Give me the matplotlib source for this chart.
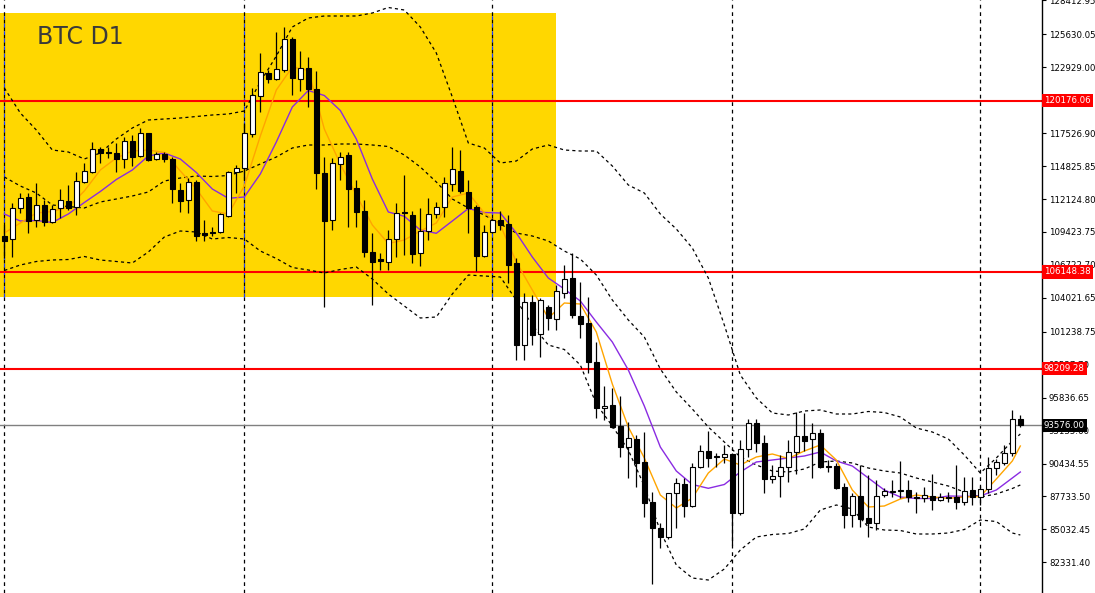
import matplotlib
matplotlib.use("Agg")
import matplotlib.pyplot as plt
import matplotlib.transforms as mtransforms
from matplotlib.patches import Rectangle
import numpy as np
import pandas as pd

# ---------------- data ----------------
start_date = "2025-09-01"

opens = [109116, 108820, 111362, 112264, 110403, 111633, 110214, 111362, 111936, 111444,
         113544, 114364, 116200, 116004, 115872, 115405, 116856, 115651, 117512, 115405,
         115790, 115380, 112863, 112043, 113544, 109312, 109444, 109394, 110756, 114314,
         114642, 117455, 120596, 122482, 121940, 122703, 125220, 121940, 122842, 121120,
         114232, 110403, 114995, 115733, 113002, 111141, 107804, 107180, 106984, 108820,
         111084, 110813, 107672, 109526, 110870, 111444, 113355, 114421, 112724, 111494,
         107451, 109394, 110403, 110050, 106852, 100153, 103704, 101030, 103244, 102260,
         104442, 105622, 102556, 101932, 98734, 94962, 95233, 93511, 91814, 92445,
         90534, 87254, 85122, 84384, 87992, 88755, 86976, 90174, 91461, 91051,
         90994, 91190, 86402, 91600, 93732, 92142, 89190, 89436, 90174, 91354,
         92691, 92420, 92962, 90231, 90231, 88534, 86213, 87771, 85967, 85582,
         87828, 88124, 88181, 88263, 87664, 87582, 87796, 87443, 87664, 87664,
         87254, 88263, 87664, 88320, 90042, 90502, 91272, 94060]
highs = [109993, 111772, 112592, 112592, 113462, 112043, 111633, 112920, 113273, 114314,
         115052, 116824, 116414, 116414, 116742, 117234, 117373, 117922, 117512, 116004,
         116004, 115594, 113462, 113822, 113683, 110403, 109854, 110952, 114446, 114913,
         118332, 121202, 124072, 122703, 125844, 126254, 125434, 124261, 123794, 122646,
         115594, 115462, 116004, 116004, 113683, 112043, 109312, 107672, 109583, 111772,
         114093, 111166, 111362, 112182, 111904, 113954, 116414, 116143, 113683, 111633,
         109993, 110542, 111166, 110813, 107262, 104392, 104253, 103982, 103433, 105073,
         106713, 107672, 105344, 104114, 100424, 96791, 96602, 95971, 93864, 92773,
         93044, 88124, 85532, 88042, 89222, 89222, 90452, 91953, 93101, 91272,
         91953, 91272, 92363, 94060, 94060, 92773, 90313, 91133, 92363, 94634,
         94552, 93732, 93240, 90723, 90452, 88812, 87992, 90313, 89493, 89083,
         88402, 89083, 90641, 89083, 88124, 88534, 89550, 87992, 88124, 90313,
         89354, 89354, 88591, 90944, 90780, 91953, 94823, 94413]
lows = [107287, 107394, 110952, 109312, 109854, 109936, 110132, 110542, 111223, 110813,
        113412, 114232, 115052, 115462, 114364, 114642, 114831, 115594, 115241, 115323,
        115184, 111772, 111059, 110952, 108706, 108706, 109091, 109312, 110674, 112642,
        113683, 117234, 119284, 121612, 121883, 122564, 120653, 121006, 119644, 112920,
        103294, 109583, 113683, 109854, 109854, 107394, 103433, 106303, 106303, 107394,
        107533, 106852, 106656, 108763, 110592, 110674, 112806, 112642, 109312, 106246,
        107394, 109312, 109583, 105212, 98923, 98923, 100153, 99194, 101383, 101383,
        103982, 102342, 100702, 97832, 94142, 94003, 93322, 90994, 89222, 88534,
        86074, 80530, 83482, 84220, 85122, 86074, 86894, 90042, 90174, 90174,
        90502, 83753, 86213, 90994, 91404, 88042, 88862, 87714, 88944, 89575,
        91486, 89272, 90092, 89764, 88345, 85122, 85254, 85254, 84434, 84983,
        87714, 87714, 87582, 87304, 86352, 87304, 86623, 87386, 87304, 86680,
        87033, 87033, 87033, 88042, 89493, 90313, 91051, 93404]
closes = [108706, 111362, 112182, 110346, 111633, 110264, 111305, 112043, 111362, 113626,
          114396, 116200, 115922, 115872, 115380, 116856, 115544, 117562, 115323, 115815,
          115380, 112920, 111986, 113544, 109116, 109173, 109312, 110895, 114314, 114642,
          117512, 120653, 122564, 121940, 122760, 125220, 122022, 122892, 121120, 114232,
          110321, 115052, 115594, 112920, 111084, 107754, 106984, 107041, 108820, 110952,
          110952, 107615, 109501, 110870, 111444, 113412, 114560, 112806, 111362, 107451,
          109394, 110403, 109993, 106713, 100153, 103704, 100973, 103843, 102342, 104581,
          105540, 102613, 101850, 98784, 95012, 95176, 93454, 91814, 92502, 90502,
          87222, 85122, 84384, 87992, 88812, 86976, 90174, 91461, 90912, 90944,
          91190, 86402, 91625, 93732, 92142, 89140, 89436, 90124, 91354, 92691,
          92306, 92962, 90174, 90124, 88402, 86213, 87771, 85860, 85582, 87771,
          88181, 88181, 88263, 87664, 87582, 87853, 87443, 87664, 87582, 87254,
          88181, 87714, 88320, 90042, 90584, 91272, 94060, 93576]

# indicator values at these candle numbers
ind_idx = list(range(0, 128, 2)) + [127]
bb_upper = [121227, 119177, 117783, 116143, 115979, 115405, 115897, 117045, 117947, 118603,
            118685, 118767, 118890, 119013, 119095, 119341, 121719, 123851, 126229, 126967,
            127131, 127131, 127131, 127377, 127828, 127623, 126229, 124097, 120489, 116717,
            116307, 115077, 115241, 116225, 116553, 116143, 116061, 116061, 114831, 113273,
            112617, 110895, 109665, 108107, 105647, 101793, 97693, 95807, 94577, 94413,
            94741, 94823, 94495, 94495, 94700, 94618, 94249, 93347, 93019, 92445,
            91133, 89657, 90887, 92281, 92855]
bb_middle = [113929, 113191, 112617, 111633, 111510, 111387, 111879, 112125, 112371, 112699,
             113601, 113847, 114011, 113970, 114052, 114421, 114995, 115569, 116307, 116553,
             116553, 116635, 116635, 116553, 116430, 115733, 114749, 113519, 112125, 111387,
             110813, 110075, 109337, 109091, 108681, 107861, 107205, 105893, 103843, 102203,
             100809, 98185, 96299, 94905, 93429, 92199, 90969, 90313, 89821, 89739,
             89985, 90559, 90641, 90477, 90067, 89821, 89657, 89247, 88919, 88591,
             88099, 87689, 87935, 88386, 88673]
bb_lower = [106262, 106713, 107000, 107123, 107164, 107410, 107123, 107000, 106877, 107779,
            109009, 109501, 109419, 108845, 108968, 108845, 107861, 107246, 106508, 106303,
            106057, 106344, 106549, 105565, 104335, 103351, 102367, 102449, 104335, 105893,
            105811, 105729, 103843, 101793, 100153, 99784, 98513, 95315, 93511, 91543,
            88591, 84901, 82113, 81047, 80883, 81785, 83343, 84409, 84614, 84696,
            85065, 86623, 87033, 86705, 85229, 84983, 84942, 84655, 84655, 84737,
            85024, 85803, 85680, 84737, 84573]
ma_fast = [109337, 110157, 110977, 111100, 111469, 112781, 114503, 115487, 116061, 116143,
           115938, 114421, 112945, 111141, 110895, 113191, 117291, 121063, 122949, 122662,
           117865, 114995, 112453, 109993, 108476, 108763, 109501, 110157, 112289, 112617,
           110977, 109993, 106959, 104663, 102367, 103597, 103515, 101219, 96955, 93429,
           90887, 87853, 86787, 87607, 89657, 90805, 90313, 90969, 91215, 90846,
           91461, 91953, 90723, 88263, 86869, 86951, 87525, 87853, 87689, 87582,
           87689, 87730, 89165, 90641, 91871]
ma_slow = [110895, 110321, 110362, 110198, 110895, 111838, 112740, 113724, 114503, 115651,
           115897, 115405, 114298, 112945, 112182, 112289, 114175, 116799, 119669, 121022,
           120612, 119382, 117045, 113765, 111059, 110706, 109583, 109312, 110321, 111346,
           111018, 110977, 109337, 107369, 105647, 104745, 103761, 102039, 100399, 98103,
           95151, 91789, 89821, 88714, 88402, 88714, 89739, 90559, 90723, 90887,
           91051, 91379, 90641, 90231, 89247, 88263, 87689, 87566, 87566, 87771,
           87746, 87771, 88263, 89247, 89739]

levels = [120176.06, 106148.38, 98209.28]
last_price = 93576.00
tick_values = [128412.95, 125630.05, 122929.00, 117526.90, 114825.85, 112124.80,
               109423.75, 106722.70, 104021.65, 101238.75, 98537.70, 95836.65,
               93135.60, 90434.55, 87733.50, 85032.45, 82331.40]
zone_top, zone_bottom, zone_end = 127377, 104089, 69
title = "BTC D1"

# ---------------- figure ----------------
W, H = 1095, 593
fig = plt.figure(figsize=(W / 100, H / 100), dpi=100)
fig.patch.set_facecolor("white")
ax = fig.add_axes([0, 0, 1042 / W, 1])
ax.set_facecolor("white")

n = len(closes)
x = np.arange(n)
ax.set_xlim(-0.54, 129.71)
ax.set_ylim(79817, 128443)

# yellow zone
ax.add_patch(Rectangle((-5, zone_bottom), zone_end + 5, zone_top - zone_bottom,
                       facecolor="#FFD700", edgecolor="none", zorder=0))

# period separators (month starts)
dates = pd.date_range(start_date, periods=n, freq="D")
sep_idx = [i for i, d in enumerate(dates) if d.day == 1]
for i in sep_idx:
    ax.axvline(i, color="black", lw=0.9, ls=(0, (3, 3)), zorder=0.5)
    if i < zone_end:
        ax.plot([i, i], [zone_bottom, zone_top], color="#1a3cff", lw=0.9,
                ls=(0, (3, 3)), zorder=0.6)

# horizontal levels
for lv in levels:
    ax.axhline(lv, color="#FF0000", lw=1.5, zorder=1)
ax.axhline(last_price, color="#808080", lw=1.0, zorder=1)

# Bollinger bands
for band in (bb_upper, bb_middle, bb_lower):
    ax.plot(ind_idx, band, color="black", lw=0.9, ls=(0, (2.5, 2.5)), zorder=1.5)
# moving averages
ax.plot(ind_idx, ma_slow, color="#8A2BE2", lw=1.0, zorder=1.6)
ax.plot(ind_idx, ma_fast, color="#FFA500", lw=1.0, zorder=1.7)

# candles
o = np.array(opens, float); c = np.array(closes, float)
h = np.array(highs, float); l = np.array(lows, float)
up = c >= o
ax.vlines(x, l, h, color="black", lw=0.9, zorder=2)
bottom = np.minimum(o, c)
height = np.maximum(np.abs(c - o), 60)
ax.bar(x[up], height[up], bottom=bottom[up], width=0.55, facecolor="white",
       edgecolor="black", linewidth=0.8, zorder=3)
ax.bar(x[~up], height[~up], bottom=bottom[~up], width=0.55, facecolor="black",
       edgecolor="black", linewidth=0.8, zorder=3)

# title text
ax.text(37 / 1042, 1 - 37 / H, title, transform=ax.transAxes, fontsize=17,
        color="#3a3a3a", va="center", ha="left", family="DejaVu Sans", zorder=5)

# axes styling
for s in ("top", "left", "bottom"):
    ax.spines[s].set_visible(False)
ax.spines["right"].set_color("black")
ax.spines["right"].set_linewidth(1.0)
ax.set_xticks([])
ax.yaxis.tick_right()
ax.set_yticks(tick_values)
ax.set_yticklabels([f"{v:.2f}" for v in tick_values])
ax.tick_params(axis="y", direction="out", length=3, width=0.8, pad=2,
               labelsize=6.2, colors="black")

# price labels on the axis
tr = mtransforms.blended_transform_factory(ax.transAxes, ax.transData)
for lv in levels:
    ax.text(1.0 + 2 / 1042, lv, f"{lv:.2f}", transform=tr, fontsize=6.2,
            color="white", va="center", ha="left", zorder=10, clip_on=False,
            bbox=dict(boxstyle="square,pad=0.25", fc="#FF0000", ec="none"))
ax.text(1.0 + 2 / 1042, last_price, f"{last_price:.2f}", transform=tr, fontsize=6.2,
        color="white", va="center", ha="left", zorder=10, clip_on=False,
        bbox=dict(boxstyle="square,pad=0.25", fc="black", ec="none"))

fig.savefig("out.png", dpi=100, facecolor="white")
